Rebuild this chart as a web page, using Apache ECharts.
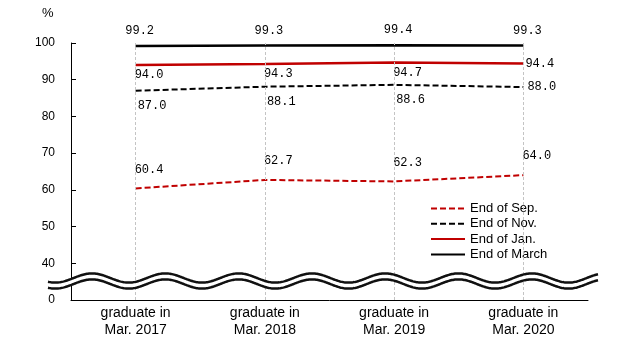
<!DOCTYPE html>
<html>
<head>
<meta charset="utf-8">
<script src="https://cdn.jsdelivr.net/npm/echarts@6/dist/echarts.min.js"></script>
<style>html,body{margin:0;padding:0;background:#fff}#c{width:627px;height:343px}</style>
</head>
<body>
<div id="c"></div>
<script>
const categories = ['graduate in\nMar. 2017', 'graduate in\nMar. 2018', 'graduate in\nMar. 2019', 'graduate in\nMar. 2020'];
const sepValues = [60.4, 62.7, 62.3, 64.0];
const novValues = [87.0, 88.1, 88.6, 88.0];
const janValues = [94.0, 94.3, 94.7, 94.4];
const marValues = [99.2, 99.3, 99.4, 99.3];
const seriesNames = ['End of Sep.', 'End of Nov.', 'End of Jan.', 'End of March'];
const yTickLabels = {30: '0'};

const RED = '#c00000', BLACK = '#000';
const labelFont = {fontFamily: 'Liberation Mono', fontSize: 12, color: '#000'};

function withLastLabel(vals, lastLabel) {
  return vals.map((v, i) => i === vals.length - 1 && lastLabel ? {value: v, label: lastLabel} : v);
}
const fmt = p => (+p.value).toFixed(1);

const chart = echarts.init(document.getElementById('c'), null, {renderer: 'canvas'});

function wave(center, x0, x1) {
  const pts = [];
  for (let x = x0; x <= x1; x += 1) {
    pts.push([x, center - 4.6 * Math.cos(2 * Math.PI * (x - 92) / 73.3)]);
  }
  return pts;
}
const upper = wave(278, 48, 598);
const lower = wave(284, 48, 598);
const fillPts = upper.concat(lower.slice().reverse());

chart.setOption({
  animation: false,
  backgroundColor: '#fff',
  title: {text: '%', left: 37, top: 2, textStyle: {fontFamily: 'Liberation Sans', fontSize: 13, fontWeight: 'normal', color: '#000'}},
  grid: {left: 71, right: 39, top: 43, bottom: 43},
  legend: {
    orient: 'vertical', left: 430, top: 202, padding: 0,
    itemWidth: 34, itemHeight: 12, itemGap: 2.3,
    itemStyle: {opacity: 0},
    textStyle: {fontFamily: 'Liberation Sans', fontSize: 13, color: '#000'},
    data: seriesNames
  },
  xAxis: {
    type: 'category', data: categories, boundaryGap: true,
    axisLine: {lineStyle: {color: '#000', width: 1}},
    axisTick: {show: false},
    axisLabel: {fontFamily: 'Liberation Sans', fontSize: 14, color: '#000', lineHeight: 16.5, margin: 5},
    splitLine: {show: false}
  },
  yAxis: {
    type: 'value', min: 30, max: 100, interval: 10,
    axisLine: {show: true, lineStyle: {color: '#000', width: 1}},
    axisTick: {show: true, inside: true, length: 5, lineStyle: {color: '#000'}},
    axisLabel: {fontFamily: 'Liberation Sans', fontSize: 12, color: '#000', margin: 16,
      formatter: v => (yTickLabels[v] !== undefined ? yTickLabels[v] : String(v))},
    splitLine: {show: false}
  },
  series: [
    {
      name: seriesNames[0], type: 'line', symbol: 'circle', symbolSize: 0, showSymbol: true,
      lineStyle: {color: RED, width: 2, type: [6, 3]}, itemStyle: {color: RED},
      data: sepValues,
      label: {show: true, position: 'top', distance: 13, align: 'left', offset: [-1, 0], formatter: fmt, ...labelFont},
      markLine: {
        silent: true, symbol: 'none', label: {show: false},
        lineStyle: {color: '#c4c4c4', width: 1, type: [3, 2]},
        data: categories.map(c => ({xAxis: c}))
      },
      z: 3
    },
    {
      name: seriesNames[1], type: 'line', symbol: 'circle', symbolSize: 0, showSymbol: true,
      lineStyle: {color: BLACK, width: 2, type: [6, 3]}, itemStyle: {color: BLACK},
      data: withLastLabel(novValues, {position: 'right', distance: 4, align: 'left', offset: [0, 0]}),
      label: {show: true, position: 'bottom', distance: 9, align: 'left', offset: [2, 0], formatter: fmt, ...labelFont},
      z: 3
    },
    {
      name: seriesNames[2], type: 'line', symbol: 'circle', symbolSize: 0, showSymbol: true,
      lineStyle: {color: RED, width: 2.5}, itemStyle: {color: RED},
      data: withLastLabel(janValues, {position: 'right', distance: 2, align: 'left', offset: [0, 0]}),
      label: {show: true, position: 'bottom', distance: 4, align: 'left', offset: [-1, 0], formatter: fmt, ...labelFont},
      z: 3
    },
    {
      name: seriesNames[3], type: 'line', symbol: 'circle', symbolSize: 0, showSymbol: true,
      lineStyle: {color: BLACK, width: 2.5}, itemStyle: {color: BLACK},
      data: marValues,
      label: {show: true, position: 'top', distance: 5, offset: [4, -4], formatter: fmt, ...labelFont},
      z: 3
    }
  ],
  graphic: [
    {type: 'polygon', z: 100, shape: {points: fillPts}, style: {fill: '#fff', stroke: null}},
    {type: 'polyline', z: 101, shape: {points: upper}, style: {stroke: '#111', lineWidth: 2.5, fill: null}},
    {type: 'polyline', z: 101, shape: {points: lower}, style: {stroke: '#111', lineWidth: 2.5, fill: null}}
  ]
});
</script>
</body>
</html>
